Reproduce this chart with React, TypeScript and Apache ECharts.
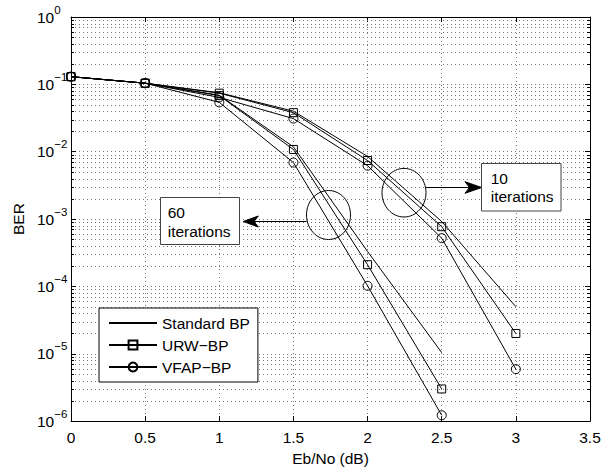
import React, { useEffect, useRef } from "react";
import * as echarts from "echarts";

// ---- data ----
const xValues10 = [0, 0.5, 1, 1.5, 2, 2.5, 3];
const xValues60 = [0, 0.5, 1, 1.5, 2, 2.5];

const standard10 = [0.13, 0.104, 0.075, 0.04, 0.0085, 9.2e-4, 5.0e-5];
const urw10 = [0.13, 0.104, 0.074, 0.038, 0.0074, 7.7e-4, 2.0e-5];
const vfap10 = [0.13, 0.104, 0.064, 0.031, 0.0062, 5.2e-4, 5.9e-6];

const standard60 = [0.13, 0.104, 0.069, 0.0118, 3.3e-4, 1.04e-5];
const urw60 = [0.13, 0.104, 0.068, 0.0108, 2.1e-4, 3.0e-6];
const vfap60 = [0.13, 0.104, 0.054, 0.0069, 1.02e-4, 1.22e-6];

const legendNames = ["Standard BP", "URW\u2212BP", "VFAP\u2212BP"];
const xTickInterval = 0.5;
const xMin = 0;
const xMax = 3.5;
const yMin = 1e-6;
const yMax = 1;
const minorMantissas = [2, 3, 4, 5, 6, 7, 8, 9];
const decadeExponents = [-6, -5, -4, -3, -2, -1];

const FONT = "'Liberation Sans', Arial, Helvetica, sans-serif";
const FS = 15.5;

const pairs = (xs: number[], ys: number[]) => xs.map((x, i) => [x, ys[i]]);

export default function App() {
  const ref = useRef<HTMLDivElement>(null);

  useEffect(() => {
    if (!ref.current) return;
    const chart = echarts.init(ref.current, null, { renderer: "svg" });

    const minorValues: number[] = [];
    decadeExponents.forEach((e) =>
      minorMantissas.forEach((m) => minorValues.push(m * Math.pow(10, e)))
    );

    const GRID_COLOR = "#777";
    const gridStyle = { color: GRID_COLOR, width: 1, type: [1, 3] as number[] };

    const lineSeries = (
      name: string,
      data: number[][],
      symbol: string,
      symbolSize: number
    ) => ({
      type: "line",
      name,
      data,
      symbol,
      symbolSize,
      showSymbol: symbol !== "none",
      z: 5,
      lineStyle: { color: "#000", width: 1 },
      itemStyle: { color: "transparent", borderColor: "#000", borderWidth: 1 },
      emphasis: { disabled: true },
      silent: true,
    });

    const supText = (v: number) => {
      const e = Math.round(Math.log10(v));
      const s = e < 0 ? "\u2212" + -e : String(e);
      return "{b|10}{s|" + s + "}";
    };

    const option: any = {
      animation: false,
      backgroundColor: "#fff",
      textStyle: { fontFamily: FONT },
      grid: { left: 71, top: 17, right: 23, bottom: 45, containLabel: false },
      xAxis: [
        {
          type: "value",
          min: xMin,
          max: xMax,
          interval: xTickInterval,
          position: "bottom",
          name: "Eb/No (dB)",
          nameLocation: "middle",
          nameGap: 26,
          nameTextStyle: { fontSize: FS, color: "#000", fontFamily: FONT, verticalAlign: "top" },
          axisLine: { show: true, onZero: false, lineStyle: { color: "#000", width: 1 } },
          axisTick: { show: true, inside: true, length: 5, lineStyle: { color: "#000" } },
          axisLabel: { fontSize: FS, color: "#000", fontFamily: FONT, margin: 8 },
          splitLine: { show: true, lineStyle: gridStyle },
        },
        {
          type: "value",
          min: xMin,
          max: xMax,
          interval: xTickInterval,
          position: "top",
          axisLine: { show: true, onZero: false, lineStyle: { color: "#000", width: 1 } },
          axisTick: { show: true, inside: true, length: 5, lineStyle: { color: "#000" } },
          axisLabel: { show: false },
          splitLine: { show: false },
        },
      ],
      yAxis: [
        {
          type: "log",
          logBase: 10,
          min: yMin,
          max: yMax,
          splitNumber: 6,
          position: "left",
          name: "BER",
          nameLocation: "middle",
          nameGap: 42,
          nameRotate: 90,
          nameTextStyle: { fontSize: FS, color: "#000", fontFamily: FONT },
          axisLine: { show: true, onZero: false, lineStyle: { color: "#000", width: 1 } },
          axisTick: { show: true, inside: true, length: 5, lineStyle: { color: "#000" } },
          axisLabel: {
            margin: 34,
            align: "left",
            formatter: supText,
            rich: {
              b: { fontSize: FS, color: "#000", fontFamily: FONT, lineHeight: 27, verticalAlign: "middle" },
              s: { fontSize: 11.5, color: "#000", fontFamily: FONT, lineHeight: 12, verticalAlign: "top" },
            },
          },
          splitLine: { show: true, lineStyle: gridStyle },
        },
        {
          type: "log",
          logBase: 10,
          min: yMin,
          max: yMax,
          splitNumber: 6,
          position: "right",
          axisLine: { show: true, onZero: false, lineStyle: { color: "#000", width: 1 } },
          axisTick: { show: true, inside: true, length: 5, lineStyle: { color: "#000" } },
          axisLabel: { show: false },
          splitLine: { show: false },
        },
      ],
      legend: {
        data: [
          {
            name: legendNames[0],
            itemStyle: { color: "transparent", borderColor: "transparent", borderWidth: 0, opacity: 0 },
          },
          { name: legendNames[1] },
          { name: legendNames[2] },
        ],
        orient: "vertical",
        left: 99,
        top: 308,
        backgroundColor: "#fff",
        borderColor: "#000",
        borderWidth: 1,
        borderRadius: 0,
        padding: [7, 8, 7, 9],
        itemWidth: 48,
        itemHeight: 11,
        itemGap: 6,
        selectedMode: false,
        textStyle: { fontSize: FS, color: "#000", fontFamily: FONT },
        z: 10,
      },
      series: [
        {
          type: "custom",
          name: "minorGrid",
          silent: true,
          z: 1,
          clip: false,
          data: minorValues.map((v) => [xMin, v]),
          renderItem: (_params: any, api: any) => {
            const v = api.value(1);
            const p0 = api.coord([xMin, v]);
            const p1 = api.coord([xMax, v]);
            const y = Math.round(p0[1]) + 0.5;
            return {
              type: "group",
              children: [
                {
                  type: "line",
                  shape: { x1: p0[0], y1: y, x2: p1[0], y2: y },
                  style: { stroke: GRID_COLOR, lineWidth: 1, lineDash: [1, 3] },
                },
                {
                  type: "line",
                  shape: { x1: p0[0], y1: y, x2: p0[0] + 3, y2: y },
                  style: { stroke: "#000", lineWidth: 1 },
                },
                {
                  type: "line",
                  shape: { x1: p1[0] - 3, y1: y, x2: p1[0], y2: y },
                  style: { stroke: "#000", lineWidth: 1 },
                },
              ],
            };
          },
        },
        lineSeries(legendNames[0], pairs(xValues10, standard10), "none", 0),
        lineSeries(legendNames[1], pairs(xValues10, urw10), "rect", 8),
        lineSeries(legendNames[2], pairs(xValues10, vfap10), "circle", 9),
        lineSeries(legendNames[0], pairs(xValues60, standard60), "none", 0),
        lineSeries(legendNames[1], pairs(xValues60, urw60), "rect", 8),
        lineSeries(legendNames[2], pairs(xValues60, vfap60), "circle", 9),
      ],
      graphic: [
        // 10 iterations annotation
        {
          type: "ellipse",
          z: 100,
          shape: { cx: 404, cy: 192.7, rx: 22, ry: 24.3 },
          style: { fill: "none", stroke: "#000", lineWidth: 1 },
        },
        {
          type: "line",
          z: 100,
          shape: { x1: 426, y1: 187.5, x2: 470, y2: 187.5 },
          style: { stroke: "#000", lineWidth: 1 },
        },
        {
          type: "polygon",
          z: 100,
          shape: { points: [[481.7, 187.5], [465, 181.7], [469.5, 187.5], [465, 193.3]] },
          style: { fill: "#000", stroke: "#000", lineWidth: 1 },
        },
        {
          type: "rect",
          z: 100,
          shape: { x: 481.5, y: 163.5, width: 79.5, height: 47.5 },
          style: { fill: "#fff", stroke: "#444", lineWidth: 1 },
        },
        {
          type: "text",
          z: 101,
          x: 490.7,
          y: 178.3,
          style: { text: "10", fontSize: FS, fontFamily: FONT, fill: "#000", verticalAlign: "middle", align: "left" },
        },
        {
          type: "text",
          z: 101,
          x: 490.7,
          y: 196.7,
          style: { text: "iterations", fontSize: FS, fontFamily: FONT, fill: "#000", verticalAlign: "middle", align: "left" },
        },
        // 60 iterations annotation
        {
          type: "ellipse",
          z: 100,
          shape: { cx: 328.5, cy: 215, rx: 22, ry: 24.5 },
          style: { fill: "none", stroke: "#000", lineWidth: 1 },
        },
        {
          type: "line",
          z: 100,
          shape: { x1: 306.5, y1: 221.5, x2: 254, y2: 221.5 },
          style: { stroke: "#000", lineWidth: 1 },
        },
        {
          type: "polygon",
          z: 100,
          shape: { points: [[243.3, 221.5], [258.3, 216], [254, 221.5], [258.3, 227]] },
          style: { fill: "#000", stroke: "#000", lineWidth: 1 },
        },
        {
          type: "rect",
          z: 100,
          shape: { x: 160.5, y: 197.5, width: 79, height: 47 },
          style: { fill: "#fff", stroke: "#444", lineWidth: 1 },
        },
        {
          type: "text",
          z: 101,
          x: 167.7,
          y: 212.7,
          style: { text: "60", fontSize: FS, fontFamily: FONT, fill: "#000", verticalAlign: "middle", align: "left" },
        },
        {
          type: "text",
          z: 101,
          x: 167.7,
          y: 231,
          style: { text: "iterations", fontSize: FS, fontFamily: FONT, fill: "#000", verticalAlign: "middle", align: "left" },
        },
      ],
    };

    chart.setOption(option);
    return () => chart.dispose();
  }, []);

  return (
    <div
      ref={ref}
      style={{ position: "absolute", left: 0, top: 0, width: 613, height: 471, background: "#fff" }}
    />
  );
}
